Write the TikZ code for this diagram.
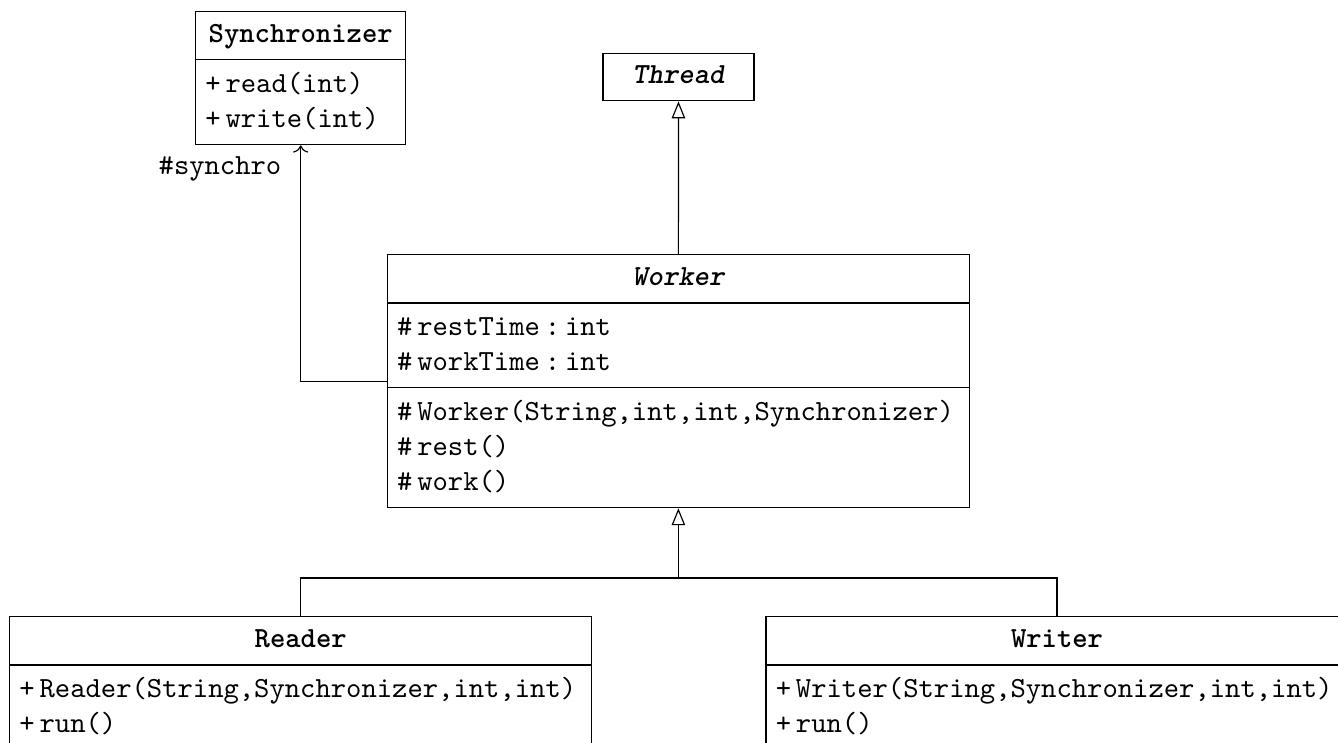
\documentclass[tikz,border=0pt]{standalone}
\usepackage{fontspec}
\usetikzlibrary{shapes.multipart,arrows.meta}

\newcommand{\rowstrut}{\rule[-2.5pt]{0pt}{10pt}}
\newcommand{\headstrut}{\rule[-2.6pt]{0pt}{9.5pt}}
\newcommand{\umlname}[1]{\hbox to\hsize{\hss\headstrut#1\hss}}

\begin{document}
\begin{tikzpicture}[
    umlclass/.style={draw, rectangle split, rectangle split parts=2, align=left, font=\ttfamily, inner sep=3.33pt, anchor=north},
    inherit/.style={-{Triangle[open,length=5.8pt,width=4.6pt]}}
]
    \useasboundingbox (0,0) rectangle (16.104,-8.931);
    \clip (0,0) rectangle (16.104,-8.931);

    % Synchronizer
    \node[umlclass, text width=2.294cm] (sync) at (3.619,-0.132)
        {\umlname{\bfseries Synchronizer}
         \nodepart{two}\rowstrut+\,read(int)\\\rowstrut+\,write(int)};

    % Thread
    \node[draw, font=\ttfamily\bfseries\itshape, text width=1.583cm, align=center, inner sep=3.33pt, anchor=north] (thread) at (8.166,-0.638) {\headstrut Thread};

    % Worker
    \node[umlclass, rectangle split parts=3, text width=6.77cm] (worker) at (8.165,-3.057)
        {\umlname{\bfseries\itshape Worker}
         \nodepart{two}\rowstrut\#\,restTime\,:\,int\\\rowstrut\#\,workTime\,:\,int
         \nodepart{three}\rowstrut\#\,Worker(String,int,int,Synchronizer)\\\rowstrut\#\,rest()\\\rowstrut\#\,work()};

    % Reader and Writer
    \node[umlclass, text width=6.77cm] (reader) at (3.619,-7.414)
        {\umlname{\bfseries Reader}
         \nodepart{two}\rowstrut+\,Reader(String,Synchronizer,int,int)\\\rowstrut+\,run()};
    \node[umlclass, text width=6.77cm] (writer) at (12.722,-7.414)
        {\umlname{\bfseries Writer}
         \nodepart{two}\rowstrut+\,Writer(String,Synchronizer,int,int)\\\rowstrut+\,run()};

    % Inheritance
    \coordinate (bus) at (8.165,-6.957);
    \draw[inherit] (worker.north) -- (thread.south);
    \draw[inherit] (bus) -- (worker.south);
    \draw (reader.north) |- (bus) -| (writer.north);

    % Association
    \draw[->] (worker.west) -| (sync.south);
    \node[anchor=east, font=\ttfamily] (synchro) at ([xshift=-3.1pt,yshift=-8.2pt]sync.south) {\#synchro};
\end{tikzpicture}
\end{document}
